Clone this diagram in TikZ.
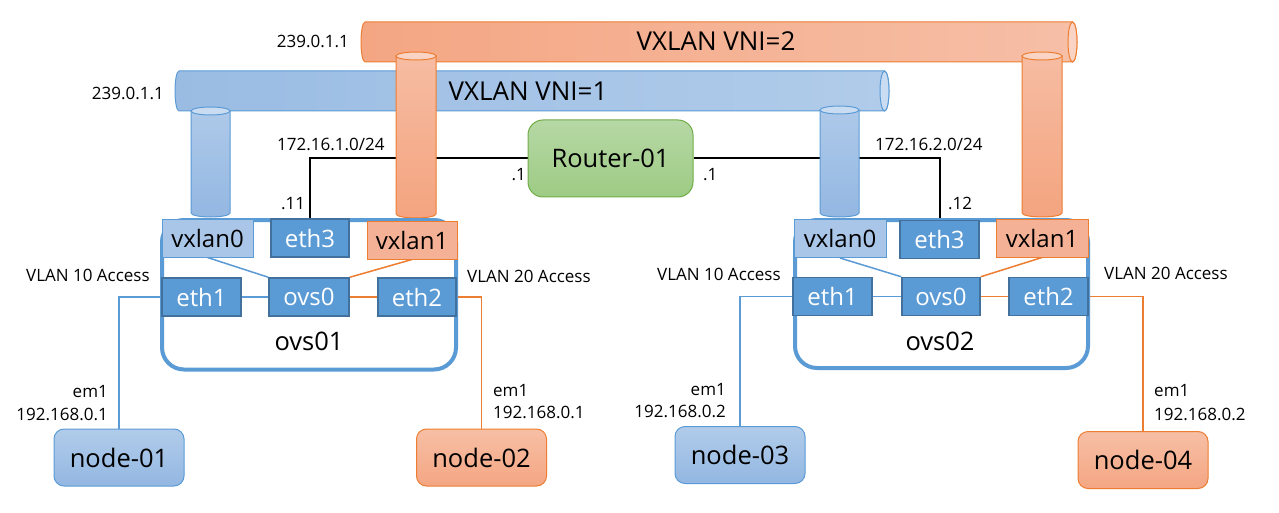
\documentclass[tikz,border=0pt]{standalone}
\usepackage{fontspec}
\setmainfont{Open Sans}
\pgfdeclarelayer{paper}
\pgfdeclarelayer{wires}
\pgfsetlayers{paper,wires,main}
\definecolor{ofblue}{HTML}{5B9BD5}
\definecolor{ofbluedk}{HTML}{41719C}
\definecolor{oforange}{HTML}{ED7D31}
\definecolor{ofgreen}{HTML}{70AD47}
\definecolor{vxblue}{HTML}{A9C6E8}
\definecolor{vxorange}{HTML}{F5B195}
\definecolor{nbluetop}{HTML}{B1CCEA}
\definecolor{nbluebot}{HTML}{93B7E2}
\definecolor{norgtop}{HTML}{F7BFA5}
\definecolor{norgbot}{HTML}{F4A683}
\definecolor{grtop}{HTML}{B6D8A5}
\definecolor{grbot}{HTML}{9DCB84}
\definecolor{porgL}{HTML}{F4A683}
\definecolor{porgR}{HTML}{F6BFA7}
\definecolor{pblueL}{HTML}{9ABCE3}
\definecolor{pblueR}{HTML}{B1CCEA}
\definecolor{capO}{HTML}{F9D4C4}
\definecolor{capB}{HTML}{CADCF1}
\definecolor{cbtop}{HTML}{AEC9E9}
\definecolor{cbbot}{HTML}{93B7E2}
\definecolor{cotop}{HTML}{F6BCA2}
\definecolor{cobot}{HTML}{F4A47F}
\newcommand\pipefnt{\fontsize{26}{30}\selectfont}
\newcommand\bigfnt{\fontsize{25.5}{30}\selectfont}
\newcommand\boxfnt{\fontsize{24}{28}\selectfont}
\newcommand\smallfnt{\fontsize{17}{20}\selectfont}
\tikzset{
  ifdark/.style={draw=ofbluedk, fill=ofblue, line width=1.5pt, text=white, font=\boxfnt, minimum height=38pt, inner sep=0pt},
  ifvxb/.style={draw=ofblue, fill=vxblue, line width=1pt, font=\boxfnt, minimum height=38pt, inner sep=0pt},
  ifvxo/.style={draw=oforange, fill=vxorange, line width=1pt, font=\boxfnt, minimum height=38pt, inner sep=0pt},
  hostb/.style={draw=ofblue, top color=nbluetop, bottom color=nbluebot, line width=1pt, rounded corners=10pt, font=\bigfnt, minimum width=130pt, minimum height=57pt, inner sep=0pt},
  hosto/.style={draw=oforange, top color=norgtop, bottom color=norgbot, line width=1pt, rounded corners=10pt, font=\bigfnt, minimum width=130pt, minimum height=57pt, inner sep=0pt},
  routerbox/.style={draw=ofgreen, top color=grtop, bottom color=grbot, line width=1pt, rounded corners=15pt, font=\bigfnt, minimum width=165pt, minimum height=77pt, inner sep=0pt},
  ovsbox/.style={draw=ofblue, line width=4pt, rounded corners=22pt},
  lbl/.style={font=\smallfnt, inner sep=0pt},
  wireb/.style={draw=ofblue, line width=1.5pt},
  wireo/.style={draw=oforange, line width=1.5pt},
  wirek/.style={draw=black, line width=2pt},
  vcylb/.style={top color=cbtop, bottom color=cbbot, draw=ofblue, line width=1pt},
  vcylo/.style={top color=cotop, bottom color=cobot, draw=oforange, line width=1pt},
}
\begin{document}
\begin{tikzpicture}[x=1pt,y=1pt]
\begin{pgfonlayer}{paper}
\fill[white] (0,0) rectangle (1279,-513);
\end{pgfonlayer}
\useasboundingbox (0,0) rectangle (1279,-513);

% horizontal pipes
\shadedraw[left color=porgL,right color=porgR,draw=oforange,line width=1pt]
  (365,-22) -- (1072.5,-22) arc[start angle=90,end angle=-90,x radius=4.5pt,y radius=20pt]
  -- (365,-62) arc[start angle=270,end angle=90,x radius=4pt,y radius=20pt] -- cycle;
\filldraw[fill=capO,draw=oforange,line width=1pt] (1072.5,-42) ellipse[x radius=4.5pt,y radius=20pt];
\node[font=\pipefnt, inner sep=0pt, anchor=base] (vni2) at (716,-51) {VXLAN VNI=2};

\shadedraw[left color=pblueL,right color=pblueR,draw=ofblue,line width=1pt]
  (179,-71) -- (884.5,-71) arc[start angle=90,end angle=-90,x radius=4.5pt,y radius=20pt]
  -- (179,-111) arc[start angle=270,end angle=90,x radius=4pt,y radius=20pt] -- cycle;
\filldraw[fill=capB,draw=ofblue,line width=1pt] (884.5,-91) ellipse[x radius=4.5pt,y radius=20pt];
\node[font=\pipefnt, inner sep=0pt, anchor=base] (vni1) at (528,-101) {VXLAN VNI=1};

\node[lbl, anchor=base east] (mcast2) at (349,-48) {239.0.1.1};
\node[lbl, anchor=base east] (mcast1) at (164,-100) {239.0.1.1};

% vertical cylinders
\shadedraw[vcylb] (191,-111) -- (191,-213) arc[start angle=180,end angle=360,x radius=19.5pt,y radius=4pt] -- (230,-111) -- cycle;
\filldraw[fill=capB,draw=ofblue,line width=1pt] (210.5,-111) ellipse[x radius=19.5pt,y radius=4pt];

\shadedraw[vcylo] (396,-56) -- (396,-214) arc[start angle=180,end angle=360,x radius=20pt,y radius=4pt] -- (436,-56) -- cycle;
\filldraw[fill=capO,draw=oforange,line width=1pt] (416,-56) ellipse[x radius=20pt,y radius=4pt];

\shadedraw[vcylb] (820,-110) -- (820,-213) arc[start angle=180,end angle=360,x radius=19.5pt,y radius=4pt] -- (859,-110) -- cycle;
\filldraw[fill=capB,draw=ofblue,line width=1pt] (839.5,-110) ellipse[x radius=19.5pt,y radius=4pt];

\shadedraw[vcylo] (1022,-56) -- (1022,-213) arc[start angle=180,end angle=360,x radius=20pt,y radius=4pt] -- (1062,-56) -- cycle;
\filldraw[fill=capO,draw=oforange,line width=1pt] (1042,-56) ellipse[x radius=20pt,y radius=4pt];

% router
\node[routerbox] (router) at (610.5,-158.5) {Router-01};
\node[lbl, anchor=base east] (rl) at (526,-181) {.1};
\node[lbl, anchor=base west] (rr) at (703,-181) {.1};
\node[lbl, anchor=base west] (net1) at (277,-151) {172.16.1.0/24};
\node[lbl, anchor=base west] (net2) at (875,-151) {172.16.2.0/24};
\node[lbl, anchor=base west] (ip11) at (281,-209) {.11};
\node[lbl, anchor=base west] (ip12) at (948,-210) {.12};

% ovs01
\draw[ovsbox] (162,-220) rectangle (456,-369.5);
\node[ifvxb, minimum width=91pt] (vxlan0a) at (207.5,-238) {vxlan0};
\node[ifdark, minimum width=78pt] (eth3a) at (310,-238) {eth3};
\node[ifvxo, minimum width=90pt] (vxlan1a) at (412,-240) {vxlan1};
\node[ifdark, minimum width=79pt] (eth1a) at (201.5,-297) {eth1};
\node[ifdark, minimum width=80pt] (ovs0a) at (309,-297) {ovs0};
\node[ifdark, minimum width=78pt] (eth2a) at (417,-297) {eth2};
\node[font=\bigfnt, inner sep=0pt, anchor=base] (ovs01) at (309,-350) {ovs01};

% ovs02
\draw[ovsbox] (795,-220) rectangle (1088,-368);
\node[ifvxb, minimum width=92pt] (vxlan0b) at (840,-238.5) {vxlan0};
\node[ifdark, minimum width=79pt] (eth3b) at (939.5,-239.5) {eth3};
\node[ifvxo, minimum width=92pt] (vxlan1b) at (1042,-238) {vxlan1};
\node[ifdark, minimum width=79pt] (eth1b) at (832.5,-296.5) {eth1};
\node[ifdark, minimum width=78pt] (ovs0b) at (941,-296.5) {ovs0};
\node[ifdark, minimum width=79pt] (eth2b) at (1048.5,-296.5) {eth2};
\node[font=\bigfnt, inner sep=0pt, anchor=base] (ovs02) at (940,-350) {ovs02};

% VLAN labels
\node[lbl, anchor=base west] (v10a) at (26,-281.5) {VLAN 10 Access};
\node[lbl, anchor=base west] (v20a) at (467,-282.5) {VLAN 20 Access};
\node[lbl, anchor=base west] (v10b) at (657,-280) {VLAN 10 Access};
\node[lbl, anchor=base west] (v20b) at (1104,-279.5) {VLAN 20 Access};

% hosts
\node[hostb] (node01) at (119,-457.5) {node-01};
\node[hosto] (node02) at (481.5,-457.5) {node-02};
\node[hostb] (node03) at (740,-455) {node-03};
\node[hosto] (node04) at (1143,-460) {node-04};

\node[lbl, anchor=base east] (em1a) at (108,-397.5) {em1};
\node[lbl, anchor=base east] (ip1) at (108,-420.5) {192.168.0.1};
\node[lbl, anchor=base west] (em1b) at (493,-396) {em1};
\node[lbl, anchor=base west] (ip2) at (493,-418) {192.168.0.1};
\node[lbl, anchor=base east] (em1c) at (726,-395) {em1};
\node[lbl, anchor=base east] (ip3) at (726,-417.5) {192.168.0.2};
\node[lbl, anchor=base west] (em1d) at (1154,-396.5) {em1};
\node[lbl, anchor=base west] (ip4) at (1154,-420) {192.168.0.2};

% connectors
\begin{pgfonlayer}{wires}
\draw[wirek] (router.west) -| (eth3a.north);
\draw[wirek] (router.east) -| (eth3b.north);
\draw[wireb] (vxlan0a.south) -- (ovs0a.north west);
\draw[wireo] (vxlan1a.south) -- (ovs0a.north east);
\draw[wireb] (eth1a.east) -- (ovs0a.west);
\draw[wireo] (ovs0a.east) -- (eth2a.west);
\draw[wireb] (vxlan0b.south) -- (ovs0b.north west);
\draw[wireo] (vxlan1b.south) -- (ovs0b.north east);
\draw[wireb] (eth1b.east) -- (ovs0b.west);
\draw[wireo] (ovs0b.east) -- (eth2b.west);
\draw[wireb] (eth1a.west) -| (node01.north);
\draw[wireo] (eth2a.east) -| (node02.north);
\draw[wireb] (eth1b.west) -| (node03.north);
\draw[wireo] (eth2b.east) -| (node04.north);
\end{pgfonlayer}
\end{tikzpicture}
\end{document}
